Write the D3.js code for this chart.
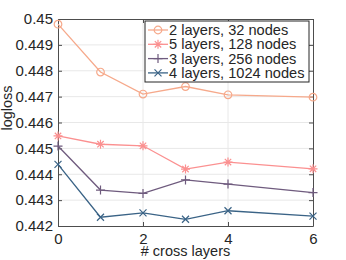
<!DOCTYPE html>
<html>
<head>
<meta charset="utf-8">
<script src="https://cdn.jsdelivr.net/npm/d3@7"></script>
<style>
  body { margin: 0; background: #fff; }
  text { font-family: "Liberation Sans", Arial, sans-serif; fill: #262626; }
</style>
</head>
<body>
<svg id="chart" width="346" height="260"></svg>
<script>
// data
var crossLayers = [0, 1, 2, 3, 4, 6];
var seriesNames = ["2 layers, 32 nodes", "5 layers, 128 nodes", "3 layers, 256 nodes", "4 layers, 1024 nodes"];
var loss2x32 = [0.4498, 0.44795, 0.4471, 0.44739, 0.44707, 0.44698];
var loss5x128 = [0.44548, 0.44516, 0.4451, 0.4442, 0.44447, 0.44421];
var loss3x256 = [0.44509, 0.44339, 0.44326, 0.44378, 0.44362, 0.44329];
var loss4x1024 = [0.44438, 0.44234, 0.44251, 0.44226, 0.44259, 0.44238];
var xTicks = [0, 2, 4, 6];
var yTicks = [0.442, 0.443, 0.444, 0.445, 0.446, 0.447, 0.448, 0.449, 0.45];

var series = [
  {name: seriesNames[0], values: loss2x32, color: "#f6a98b", marker: "circle"},
  {name: seriesNames[1], values: loss5x128, color: "#fb9090", marker: "star"},
  {name: seriesNames[2], values: loss3x256, color: "#6f5b7e", marker: "plus"},
  {name: seriesNames[3], values: loss4x1024, color: "#3a6386", marker: "cross"}
];

var svg = d3.select("#chart");
var plotLeft = 58, plotRight = 313, plotTop = 19, plotBottom = 226;

var x = d3.scaleLinear().domain([0, 6]).range([plotLeft, plotRight]);
var y = d3.scaleLinear().domain([0.442, 0.45]).range([plotBottom, plotTop]);

// grid
svg.append("g").selectAll("line").data(xTicks.slice(1, -1)).enter().append("line")
  .attr("x1", d => x(d)).attr("x2", d => x(d)).attr("y1", plotTop).attr("y2", plotBottom)
  .attr("stroke", "#e8e8e8").attr("stroke-width", 1);
svg.append("g").selectAll("line").data(yTicks.slice(1, -1)).enter().append("line")
  .attr("x1", plotLeft).attr("x2", plotRight).attr("y1", d => y(d)).attr("y2", d => y(d))
  .attr("stroke", "#e8e8e8").attr("stroke-width", 1);

// axes
var axisColor = "#4d4d4d";
var xAxis = svg.append("g").attr("transform", "translate(0," + plotBottom + ")")
  .call(d3.axisBottom(x).tickValues(xTicks).tickFormat(d3.format("d")).tickSizeInner(-4).tickSizeOuter(0).tickPadding(7));
var yAxis = svg.append("g").attr("transform", "translate(" + plotLeft + ",0)")
  .call(d3.axisLeft(y).tickValues(yTicks).tickFormat(d => d3.format(".3~f")(d)).tickSizeInner(-4).tickSizeOuter(0).tickPadding(5));
var xTop = svg.append("g").attr("transform", "translate(0," + plotTop + ")")
  .call(d3.axisTop(x).tickValues(xTicks).tickFormat("").tickSizeInner(-4).tickSizeOuter(0));
var yRight = svg.append("g").attr("transform", "translate(" + plotRight + ",0)")
  .call(d3.axisRight(y).tickValues(yTicks).tickFormat("").tickSizeInner(-4).tickSizeOuter(0));

[xAxis, yAxis, xTop, yRight].forEach(function(a){
  a.select(".domain").attr("stroke", axisColor);
  a.selectAll(".tick line").attr("stroke", axisColor);
  a.selectAll("text").style("font-size", "15px").attr("fill", "#262626").attr("font-family", null);
});

// marker drawing
function drawMarker(g, type, color) {
  if (type == "circle") {
    g.append("circle").attr("r", 3.8).attr("fill", "none").attr("stroke", color).attr("stroke-width", 1.2);
  } else if (type == "plus") {
    g.append("path").attr("d", "M-4.5,0H4.5M0,-4.5V4.5").attr("stroke", color).attr("stroke-width", 1.2);
  } else if (type == "cross") {
    g.append("path").attr("d", "M-3.5,-3.5L3.5,3.5M-3.5,3.5L3.5,-3.5").attr("stroke", color).attr("stroke-width", 1.2);
  } else {
    g.append("path").attr("d", "M-4.5,0H4.5M0,-4.5V4.5M-3.2,-3.2L3.2,3.2M-3.2,3.2L3.2,-3.2").attr("stroke", color).attr("stroke-width", 1.2);
  }
}

var line = d3.line().x((d, i) => x(crossLayers[i])).y(d => y(d));

series.forEach(function(s){
  svg.append("path").datum(s.values).attr("d", line)
    .attr("fill", "none").attr("stroke", s.color).attr("stroke-width", 1.3);
  s.values.forEach(function(v, i){
    var g = svg.append("g").attr("transform", "translate(" + x(crossLayers[i]) + "," + y(v) + ")");
    drawMarker(g, s.marker, s.color);
  });
});

// legend
var legend = svg.append("g");
legend.append("rect").attr("x", 145).attr("y", 21).attr("width", 164).attr("height", 61)
  .attr("fill", "#fff").attr("stroke", "#262626").attr("stroke-width", 1);
series.forEach(function(s, i){
  var ly = 30 + i * 14.3;
  legend.append("line").attr("x1", 148).attr("x2", 168).attr("y1", ly).attr("y2", ly)
    .attr("stroke", s.color).attr("stroke-width", 1.3);
  var g = legend.append("g").attr("transform", "translate(158," + ly + ")");
  drawMarker(g, s.marker, s.color);
  legend.append("text").attr("x", 169).attr("y", ly + 5).style("font-size", "14.6px").text(s.name);
});

// labels
svg.append("text").attr("x", (plotLeft + plotRight) / 2).attr("y", 256).attr("text-anchor", "middle")
  .style("font-size", "14.5px").text("# cross layers");
svg.append("text").attr("transform", "translate(12,108) rotate(-90)").attr("text-anchor", "middle")
  .style("font-size", "14.5px").text("logloss");
</script>
</body>
</html>
